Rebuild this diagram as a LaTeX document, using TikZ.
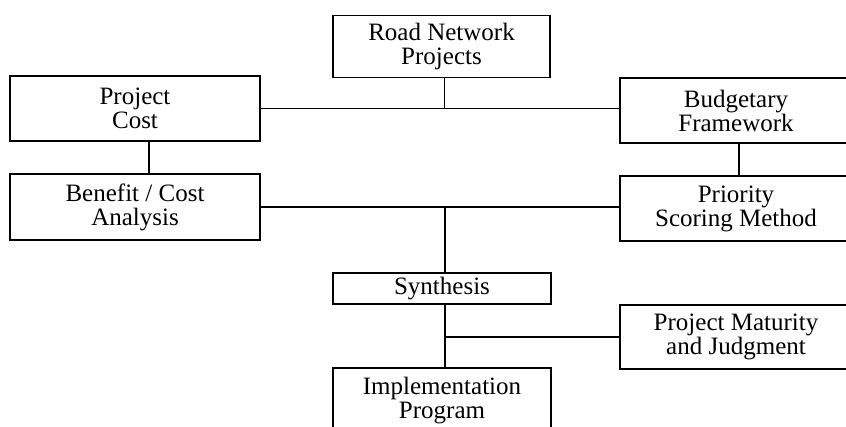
\documentclass[tikz,border=0pt]{standalone}
\usepackage{fontspec}
\setmainfont{Liberation Serif}
\usepackage{tikz}
\usetikzlibrary{
    positioning
}
\tikzstyle{box} = [
    draw,
    line width=1.6pt,
    inner sep=0pt,
    align=center,
    font=\fontsize{25}{24}\selectfont
]
\tikzstyle{link} = [
    line width=1.1pt
]
\tikzstyle{trunk} = [
    line width=2.2pt
]

\begin{document}
\begin{tikzpicture}[x=1pt,y=-1pt]
% Rahmen des Bildes
\useasboundingbox (0,0) rectangle (846,426);

% Kasten oben
\node[box, minimum width=217pt, minimum height=62pt] (road) at (441.5,46.5)
    {Road Network\\Projects};

% Linke Spalte
\node[box, minimum width=250pt, minimum height=65pt] (cost) at (135,108.5)
    {Project\\Cost};
\node[box, minimum width=250pt, minimum height=66pt] (benefit) at (135,207)
    {Benefit / Cost\\Analysis};

% Rechte Spalte (rechts abgeschnitten)
\node[box, minimum width=232pt, minimum height=65pt] (budget) at (736,110.5)
    {Budgetary\\Framework};
\node[box, minimum width=232pt, minimum height=65pt] (priority) at (736,208.5)
    {Priority\\Scoring Method};
\node[box, minimum width=232pt, minimum height=64pt] (maturity) at (736,337)
    {Project Maturity\\and Judgment};

% Mitte
\node[box, minimum width=218pt, minimum height=31pt] (synth) at (442,288.5)
    {Synthesis};
\node[box, minimum width=218pt, minimum height=66pt] (impl) at (442,401)
    {Implementation\\Program};

% Verbindungen
\draw[link] (cost.east) -- (cost.east -| budget.west);
\draw[link] ([xshift=3pt]road.south) -- ([xshift=3pt]road.south |- cost.east);
\draw[trunk] ([xshift=14pt]cost.south) -- ([xshift=14pt]cost.south |- benefit.north);
\draw[link] ([xshift=3pt]budget.south) -- ([xshift=3pt]priority.north);
\draw[link] (benefit.east) -- (benefit.east -| priority.west);
\draw[trunk] ([xshift=3pt]synth.north) -- ([xshift=3pt]synth.north |- benefit.east);
\draw[trunk] ([xshift=3pt]synth.south) -- ([xshift=3pt]impl.north);
\draw[link] ([xshift=3pt]synth.south |- maturity.west) -- (maturity.west);
\end{tikzpicture}
\end{document}
